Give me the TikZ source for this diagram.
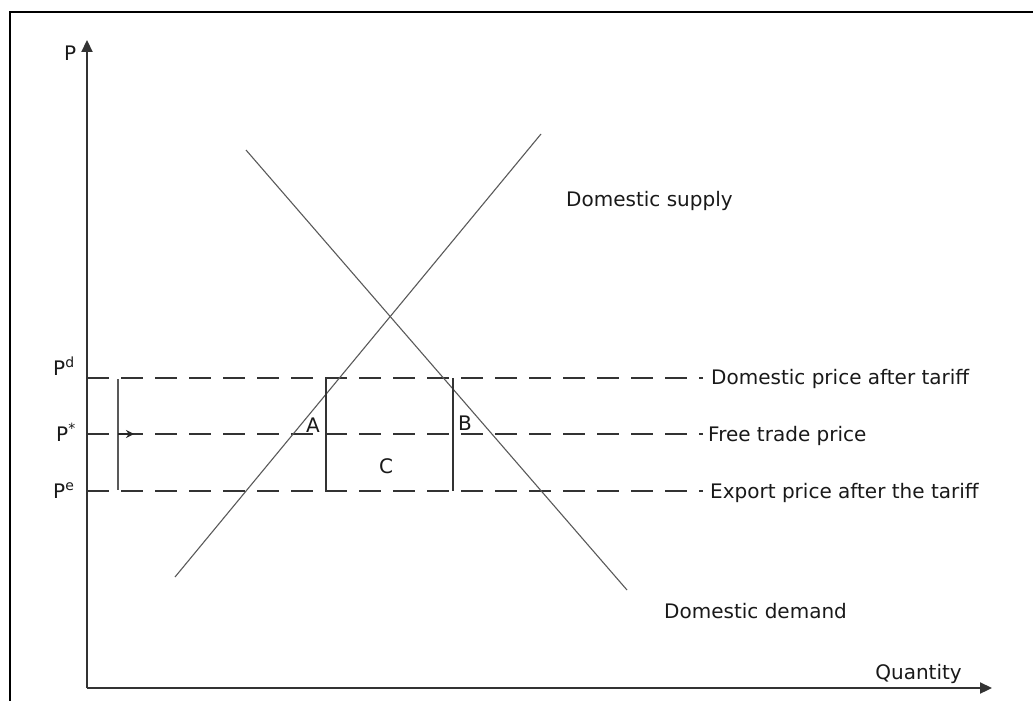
\documentclass[tikz,border=0pt]{standalone}
\usepackage{fontspec}
\setmainfont{DejaVu Sans}
\usetikzlibrary{arrows.meta}
\begin{document}
\begin{tikzpicture}[x=1pt,y=-1pt,
  lbl/.style={inner sep=0pt,font=\fontsize{20}{24}\selectfont,text=black!90},
  axis/.style={line width=2.2pt,draw=black!80,-{Triangle[length=12pt,width=11pt]}},
  curve/.style={line width=1.1pt,draw=black!65},
  pline/.style={line width=2pt,draw=black!80,dash pattern=on 22pt off 12pt},
  vline/.style={line width=1.5pt,draw=black!80},
  brk/.style={line width=1.5pt,draw=black!65}]
\useasboundingbox (0,0) rectangle (1033,701);
\draw[line width=2pt] (10,701) -- (10,12) -- (1033,12);
% axes
\coordinate (O) at (87,688);
\coordinate (Ytop) at (87,40);
\coordinate (Xend) at (992,688);
\draw[axis] (O) -- (Ytop);
\draw[axis] (O) -- (Xend);
\node[lbl,anchor=base west] (P) at (64,60) {P};
\node[lbl,anchor=base east] (Q) at (962,679) {Quantity};
% price lines
\coordinate (d0) at (87,378); \coordinate (d1) at (703,378);
\coordinate (s0) at (87,434); \coordinate (s1) at (703,434);
\coordinate (e0) at (87,491); \coordinate (e1) at (703,491);
\draw[pline] (d0) -- (d1);
\draw[pline] (s0) -- (s1);
\draw[pline] (e0) -- (e1);
\node[lbl,anchor=base west] (Ld) at (711,384) {Domestic price after tariff};
\node[lbl,anchor=base west] (Ls) at (708,441) {Free trade price};
\node[lbl,anchor=base west] (Le) at (710,498) {Export price after the tariff};
\node[lbl,anchor=base west] (Pd) at (53,375) {P\textsuperscript{d}};
\node[lbl,anchor=base west] (Ps) at (56,441) {P\textsuperscript{*}};
\node[lbl,anchor=base west] (Pe) at (53,498) {P\textsuperscript{e}};
% bracket
\coordinate (b0) at (118,379); \coordinate (b1) at (118,490);
\coordinate (bm) at (118,434); \coordinate (bt) at (134,434);
\draw[brk] (b0) -- (b1);
\draw[line width=2pt,draw=black!85,-{Stealth[length=8pt,width=8pt]}] (bm) -- (bt);
% supply and demand
\coordinate (S0) at (175,577); \coordinate (S1) at (541,134);
\coordinate (D0) at (246,150); \coordinate (D1) at (627,590);
\draw[curve] (S0) -- (S1);
\draw[curve] (D0) -- (D1);
\node[lbl,anchor=base west] (LS) at (566,206) {Domestic supply};
\node[lbl,anchor=base west] (LD) at (664,618) {Domestic demand};
% verticals
\coordinate (a0) at (326,378); \coordinate (a1) at (326,491);
\coordinate (c0) at (453,378); \coordinate (c1) at (453,491);
\draw[vline] (a0) -- (a1);
\draw[vline] (c0) -- (c1);
\node[lbl] (A) at (313,425) {A};
\node[lbl] (B) at (465,423) {B};
\node[lbl] (C) at (386,466) {C};
\end{tikzpicture}
\end{document}
